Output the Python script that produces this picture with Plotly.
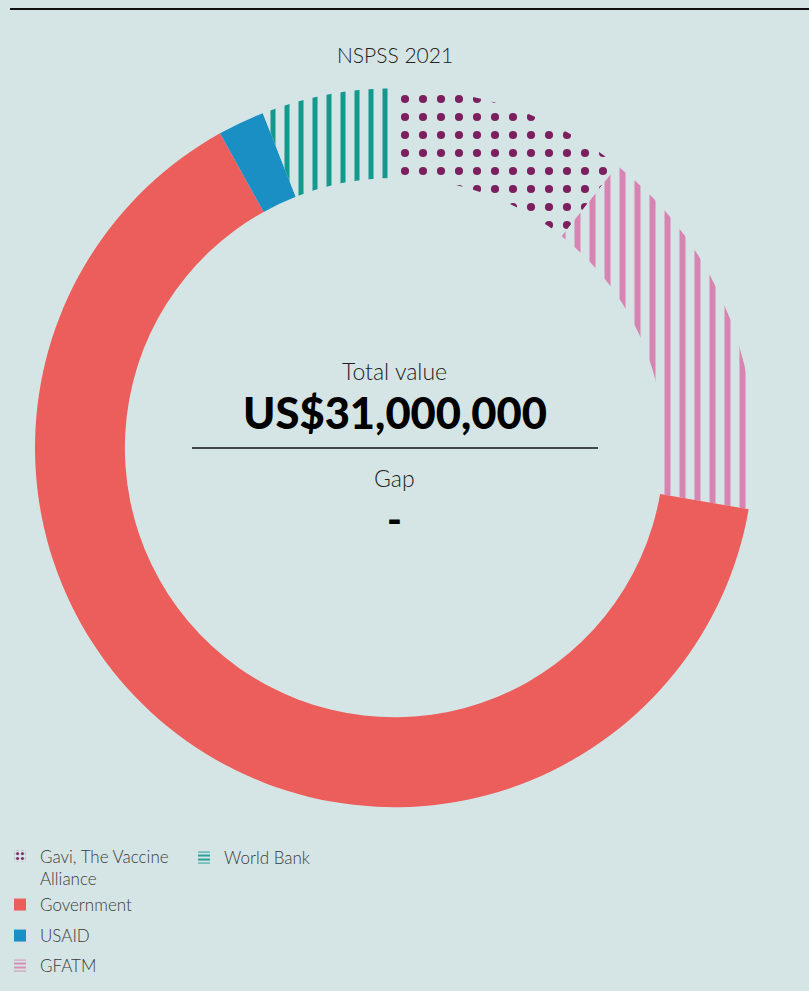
import plotly.graph_objects as go

# ---- data (US$ millions) ----
labels = ["Gavi, The Vaccine Alliance", "GFATM", "Government", "USAID", "World Bank"]
values = [3.3, 5.3, 19.9, 0.65, 1.85]
total_text = "US$31,000,000"
gap_text = "-"
title_text = "NSPSS 2021"

# ---- styles ----
BG = "#D5E5E5"
PURPLE = "#7B1F5F"
PINK = "#D784B2"
RED = "#EC5E5B"
BLUE = "#1A8FC4"
TEAL = "#14998E"

slice_fill = [BG, BG, RED, BLUE, BG]
pat_shape = [".", "|", "", "", "|"]
pat_fg = [PURPLE, PINK, RED, BLUE, TEAL]
pat_size = [18, 15, 10, 10, 14]
pat_sol = [0.16, 0.4, 0.3, 0.3, 0.36]

W, H = 809, 991
cx, cy, R = 394.5, 447.7, 359.5

fig = go.Figure()
fig.add_trace(go.Pie(
    labels=labels, values=values, sort=False, direction="clockwise", rotation=0,
    hole=0.75, textinfo="none", hoverinfo="label+value", showlegend=False,
    marker=dict(colors=slice_fill, line=dict(width=0),
                pattern=dict(shape=pat_shape, fgcolor=pat_fg, bgcolor=slice_fill,
                             size=pat_size, solidity=pat_sol, fillmode="overlay",
                             fgopacity=1)),
    domain=dict(x=[(cx - R) / W, (cx + R) / W], y=[1 - (cy + R) / H, 1 - (cy - R) / H]),
))

# legend entries (dummy traces so the legend can be laid out like the original)
legend_names = ["Gavi, The Vaccine<br>Alliance", "World Bank", "Government", "USAID", "GFATM"]
legend_ids = ["legend", "legend2", "legend3", "legend4", "legend5"]
legend_fill = [BG, BG, RED, BLUE, BG]
legend_shape = [".", "-", "", "", "-"]
legend_fg = [PURPLE, TEAL, RED, BLUE, PINK]
legend_sol = [0.3, 0.45, 0.3, 0.3, 0.45]
legend_size = [6, 5, 6, 6, 5]
for nm, lid, fc, sh, fg, so, sz in zip(legend_names, legend_ids, legend_fill, legend_shape,
                                       legend_fg, legend_sol, legend_size):
    fig.add_trace(go.Bar(
        x=[None], y=[None], name=nm, legend=lid, showlegend=True,
        marker=dict(color=fc, line=dict(width=0),
                    pattern=dict(shape=sh, fgcolor=fg, size=sz, solidity=so,
                                 fillmode="overlay", fgopacity=1)),
        hoverinfo="skip",
    ))

lfont = dict(family="Lato, sans-serif", size=17, color="#3a3a3a", weight=300)
common = dict(bgcolor="rgba(0,0,0,0)", borderwidth=0, font=lfont, xanchor="left",
              yanchor="middle", valign="top", itemclick=False, itemdoubleclick=False)
lx = 0.0
fig.update_layout(
    legend=dict(x=lx, y=1 - 867.5 / H, **common),
    legend2=dict(x=lx + 184 / W, y=1 - 858 / H, **common),
    legend3=dict(x=lx, y=1 - 905 / H, **common),
    legend4=dict(x=lx, y=1 - 936 / H, **common),
    legend5=dict(x=lx, y=1 - 966 / H, **common),
)

ann = []
ann.append(dict(text=title_text, x=cx / W, y=1 - 55 / H, xref="paper", yref="paper",
                showarrow=False, xanchor="center", yanchor="middle",
                font=dict(family="Lato, sans-serif", size=21, color="#222", weight=300)))
ann.append(dict(text="Total value", x=cx / W, y=1 - 371 / H, xref="paper", yref="paper",
                showarrow=False, xanchor="center", yanchor="middle",
                font=dict(family="Lato, sans-serif", size=23, color="#222", weight=300)))
ann.append(dict(text=total_text, x=cx / W, y=1 - 412 / H, xref="paper", yref="paper",
                showarrow=False, xanchor="center", yanchor="middle",
                font=dict(family="Lato, sans-serif", size=43.5, color="#000", weight=900)))
ann.append(dict(text="Gap", x=cx / W, y=1 - 478 / H, xref="paper", yref="paper",
                showarrow=False, xanchor="center", yanchor="middle",
                font=dict(family="Lato, sans-serif", size=23, color="#222", weight=300)))
ann.append(dict(text=gap_text, x=cx / W, y=1 - 519 / H, xref="paper", yref="paper",
                showarrow=False, xanchor="center", yanchor="middle",
                font=dict(family="Lato, sans-serif", size=40, color="#000", weight=900)))

shapes = [
    dict(type="line", xref="paper", yref="paper", x0=10 / W, x1=1, y0=1 - 9 / H, y1=1 - 9 / H,
         line=dict(color="#111", width=2)),
    dict(type="line", xref="paper", yref="paper", x0=192 / W, x1=598 / W, y0=1 - 448 / H,
         y1=1 - 448 / H, line=dict(color="#111", width=1.5)),
]

fig.update_layout(
    width=W, height=H, margin=dict(l=0, r=0, t=0, b=0),
    paper_bgcolor=BG, plot_bgcolor=BG,
    xaxis=dict(visible=False, domain=[0, 0.01]), yaxis=dict(visible=False, domain=[0, 0.01]),
    annotations=ann, shapes=shapes,
)

fig.write_html("out.html", config={"displayModeBar": False},
               post_script="document.body.style.margin='0';document.body.style.overflow='hidden';")
